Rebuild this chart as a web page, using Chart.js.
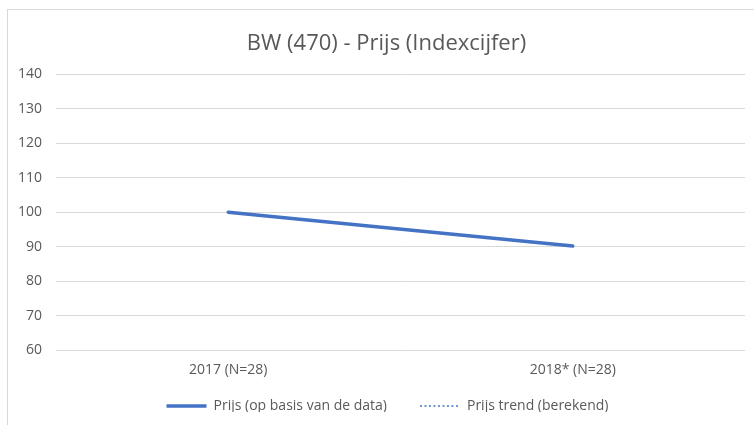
<!DOCTYPE html>
<html>
<head>
<meta charset="utf-8">
<script src="https://cdn.jsdelivr.net/npm/chart.js@4/dist/chart.umd.min.js"></script>
<style>
  html, body { margin: 0; padding: 0; background: #fff; }
  #wrap { position: relative; width: 754px; height: 425px; }
  #frame { position: absolute; left: 7px; top: 9px; right: -2px; bottom: -2px;
           border-left: 1px solid #d9d9d9; border-top: 1px solid #d9d9d9; pointer-events: none; }
</style>
</head>
<body>
<div id="wrap">
  <canvas id="chart" width="754" height="425"></canvas>
  <div id="frame"></div>
</div>
<script>
const categories = ['2017 (N=28)', '2018* (N=28)']
const prijsData = [100, 90.2]
// trend series is in the legend but has no visible points
const prijsTrend = [null, null]
const yMin = 60
const yMax = 140
const yStep = 10

const blue = '#4472C4'
const grey = '#595959'
const font = 'Open Sans'

// excel centres title and legend a bit to the right of the canvas centre,
// and the legend sits higher than its (wide) padding would put it
const shiftBlocks = {
  id: 'shiftBlocks',
  afterLayout(chart) {
    if (chart.titleBlock) { chart.titleBlock.left += 9; chart.titleBlock.right += 9 }
    if (chart.legend) {
      chart.legend.left += 10; chart.legend.right += 10
      chart.legend.top -= 13; chart.legend.bottom -= 13
    }
  }
}

new Chart(document.getElementById('chart'), {
  type: 'line',
  data: {
    labels: categories,
    datasets: [
      {
        label: 'Prijs (op basis van de data)',
        data: prijsData,
        borderColor: blue,
        backgroundColor: blue,
        borderWidth: 3.5,
        borderCapStyle: 'round',
        pointRadius: 0,
        pointStyle: 'line',
        tension: 0
      },
      {
        label: 'Prijs trend (berekend)',
        data: prijsTrend,
        borderColor: blue,
        backgroundColor: blue,
        borderWidth: 1.5,
        borderDash: [2, 2.5],
        pointRadius: 0,
        pointStyle: 'line'
      }
    ]
  },
  plugins: [shiftBlocks],
  options: {
    responsive: false,
    animation: false,
    layout: { padding: { left: 10, right: 9, top: 0, bottom: 0 } },
    plugins: {
      title: {
        display: true,
        text: 'BW (470) - Prijs (Indexcijfer)',
        color: grey,
        font: { family: font, size: 22, weight: 'normal' },
        padding: { top: 31, bottom: 17 }
      },
      legend: {
        position: 'bottom',
        maxHeight: 46,
        labels: {
          usePointStyle: true,
          pointStyleWidth: 40,
          color: grey,
          font: { family: font, size: 14 },
          padding: 33,
          generateLabels(chart) {
            const items = Chart.defaults.plugins.legend.labels.generateLabels(chart)
            items.forEach(item => {
              const ds = chart.data.datasets[item.datasetIndex]
              item.lineDash = ds.borderDash || []
              item.lineWidth = ds.borderWidth
              item.strokeStyle = ds.borderColor
              item.lineCap = 'butt'
            })
            return items
          }
        }
      },
      tooltip: { enabled: false }
    },
    scales: {
      x: {
        offset: true,
        grid: { display: false, drawTicks: false },
        border: { display: false },
        ticks: { color: grey, font: { family: font, size: 14 }, padding: 12 },
        afterFit(scale) { scale.height = 29 }
      },
      y: {
        min: yMin,
        max: yMax,
        ticks: { stepSize: yStep, color: grey, font: { family: font, size: 14 }, padding: 14 },
        grid: { color: '#d9d9d9', lineWidth: 1, drawTicks: false },
        border: { display: false },
        afterFit(scale) { scale.width = 46 }
      }
    }
  }
})
</script>
</body>
</html>
